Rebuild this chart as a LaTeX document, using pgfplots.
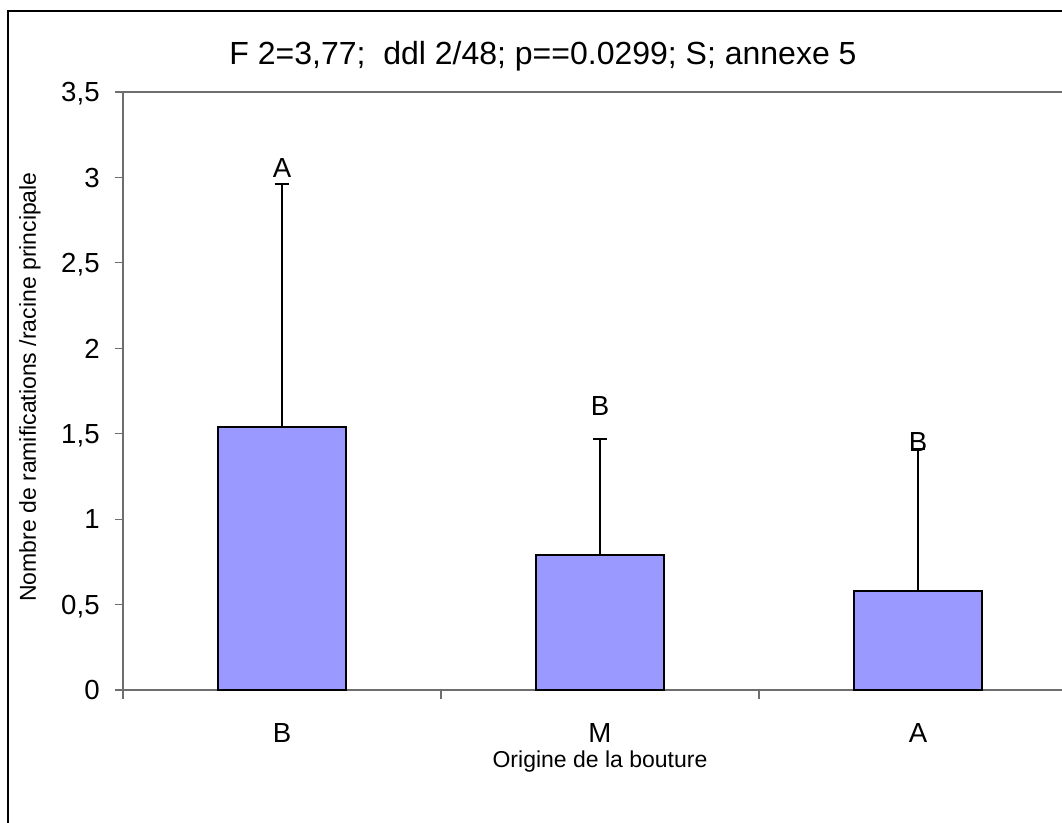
\documentclass[border=0pt]{standalone}
\usepackage{pgfplots}
\pgfplotsset{compat=1.18}
\usepackage{pgfplotstable}
\usepackage{fontspec}
\setmainfont{Liberation Sans}

\definecolor{barfill}{RGB}{153,153,255}
\definecolor{axisgray}{RGB}{110,110,110}

% mean number of branches per main root, with the upper standard deviation
\pgfplotstableread{
x  y     err
0  1.54  1.42
1  0.79  0.68
2  0.58  0.83
}\ramifications

\begin{document}
\begin{tikzpicture}
\useasboundingbox (0,0) rectangle (531pt,411.5pt);
% outer chart frame
\draw[line width=1pt, black] (4pt,-2pt) -- (4pt,406pt) -- (535pt,406pt);

\begin{axis}[
  at={(61.5pt,66.5pt)}, anchor=south west,
  scale only axis,
  width=469.5pt, height=299pt,
  xmin=-0.5, xmax=2.453,
  ymin=0, ymax=3.5,
  clip=false,
  axis x line*=bottom, axis y line*=left,
  axis line style={draw=axisgray, line width=0.75pt, -},
  tick align=outside,
  xtick={0,1,2}, xticklabels={B,M,A},
  major x tick style={draw=none},
  minor xtick={-0.5,0.5,1.5},
  minor tick length=4.5pt,
  minor x tick style={draw=axisgray, line width=0.6pt},
  ytick={0,0.5,...,3.5},
  major tick length=4pt,
  major y tick style={draw=axisgray, line width=0.6pt},
  /pgf/number format/assume math mode=true,
  /pgf/number format/use comma,
  yticklabel style={font=\fontsize{13.8}{16}\selectfont, anchor=base east,
    inner sep=0pt, xshift=-7.5pt, yshift=-4.9pt},
  xticklabel style={font=\fontsize{13.8}{16}\selectfont, anchor=base,
    inner sep=0pt, yshift=-22.5pt},
]
% top border of the plot area
\draw[axisgray, line width=0.75pt] (rel axis cs:0,1) -- (rel axis cs:1,1);

\addplot[ybar, bar width=0.4, fill=barfill, draw=black, line width=1pt,
  error bars/.cd, y dir=plus, y explicit,
  error mark=-,
  error bar style={line width=1pt, black},
  error mark options={rotate=90, black, line width=1pt, mark size=3.6pt}]
  table[x=x, y=y, y error=err]{\ramifications};

% significance letters
\node[font=\fontsize{13.8}{16}\selectfont] at (axis cs:0,3.055) {A};
\node[font=\fontsize{13.8}{16}\selectfont] at (axis cs:1,1.662) {B};
\node[font=\fontsize{13.8}{16}\selectfont] at (axis cs:2,1.451) {B};
\end{axis}

\node[font=\fontsize{16}{19}\selectfont] at (271.5pt,383.5pt)
  {F 2=3,77;\ \ ddl 2/48; p==0.0299; S; annexe 5};
\node[font=\fontsize{11.5}{13}\selectfont] at (300pt,30.5pt)
  {Origine de la bouture};
\node[font=\fontsize{11.5}{13}\selectfont, rotate=90] at (15pt,218pt)
  {Nombre de ramifications /racine principale};
\end{tikzpicture}
\end{document}
